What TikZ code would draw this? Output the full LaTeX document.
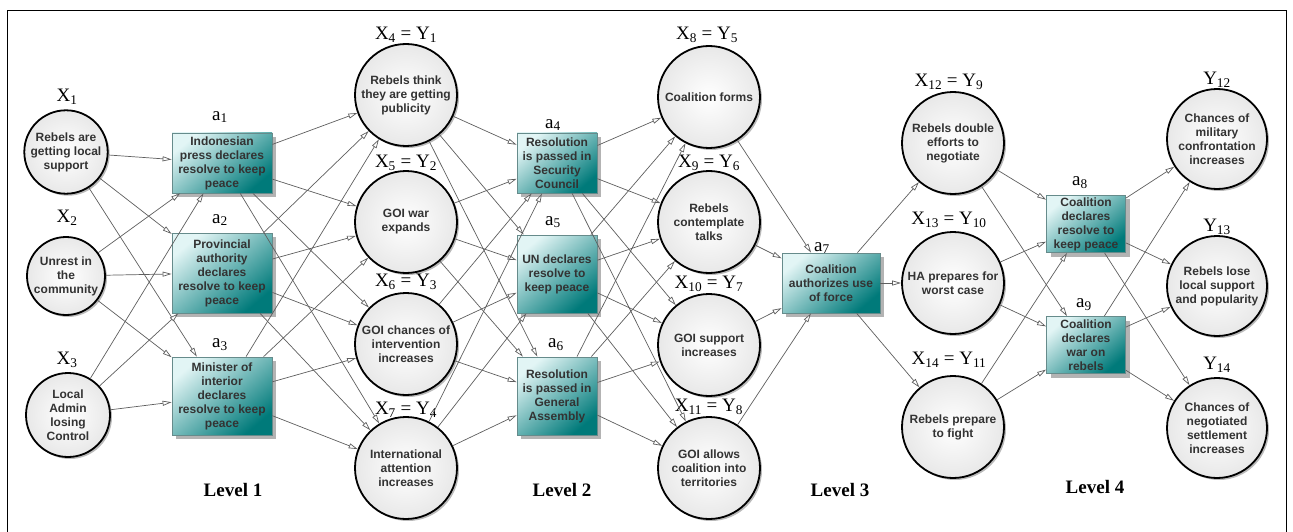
\documentclass[tikz,border=0pt]{standalone}
\usepackage{fontspec}
\setmainfont{Liberation Serif}
\setsansfont{Liberation Sans}
\usetikzlibrary{arrows.meta,shadows}
\definecolor{myTealLight}{HTML}{E2F5F5}
\definecolor{myTealMid}{HTML}{4DB3B3}
\definecolor{myTealDark}{HTML}{007A7A}
\definecolor{myGray}{HTML}{5E5E5E}
\newcommand{\sub}[2]{#1\textsubscript{#2}}

\begin{document}
\begin{tikzpicture}[x=1pt, y=-1pt, >={Triangle[length=9pt,width=5pt,fill=white]}, ->, line width=0.7pt, myGray]

  \tikzstyle{C}=[circle, draw=black, line width=1.8pt, minimum size=102pt, inner sep=1pt, align=center, text=black!80, font=\sffamily\bfseries\fontsize{12}{14}\selectfont, inner color=white, outer color=black!9, drop shadow={shadow xshift=2pt, shadow yshift=-2pt, fill=black!45, opacity=0.6}]
  \tikzstyle{A}=[rectangle, draw=myTealDark!50!black!60, line width=0.8pt, minimum width=80pt, minimum height=60pt, inner sep=2pt, align=center, text=black!80, font=\sffamily\bfseries\fontsize{12}{14}\selectfont, top color=myTealLight, middle color=myTealMid, bottom color=myTealDark, shading angle=40, drop shadow={shadow xshift=4pt, shadow yshift=-4pt, fill=black!50, opacity=0.6}]
  \tikzstyle{B}=[text=black, font=\fontsize{19}{21}\selectfont, inner sep=0pt]
  \tikzstyle{L}=[text=black, font=\bfseries\fontsize{19}{21}\selectfont, inner sep=0pt]

  \useasboundingbox (0,0) rectangle (1293,532);
  \draw [-, black, line width=1pt] (7,532) |- (1286,11) -- (1286,532);

  % level 1
  \node[C, minimum size=80pt] at (66,152) (X1) {Rebels are\\getting local\\support};
  \node[C, minimum size=78pt] at (66,276) (X2) {Unrest in\\the\\community};
  \node[C, minimum size=84pt] at (68,415) (X3) {Local\\Admin\\losing\\Control};
  \node[B] at (67,97) (lX1) {\sub{X}{1}};
  \node[B] at (67,218) (lX2) {\sub{X}{2}};
  \node[B] at (67,360) (lX3) {\sub{X}{3}};

  \node[A, minimum width=100pt] at (222,163) (a1) {Indonesian\\press declares\\resolve to keep\\peace};
  \node[A, minimum width=100pt, minimum height=80pt] at (222,273) (a2) {Provincial\\authority\\declares\\resolve to keep\\peace};
  \node[A, minimum width=100pt, minimum height=78pt] at (222,396) (a3) {Minister of\\interior\\declares\\resolve to keep\\peace};
  \node[B] at (220,117) (la1) {\sub{a}{1}};
  \node[B] at (220,220) (la2) {\sub{a}{2}};
  \node[B] at (220,345) (la3) {\sub{a}{3}};

  \draw [] (X1) to (a1);
  \draw [] (X1) to (a2);
  \draw [] (X1) to (a3);
  \draw [] (X2) to (a1);
  \draw [] (X2) to (a2);
  \draw [] (X2) to (a3);
  \draw [] (X3) to (a1);
  \draw [] (X3) to (a2);
  \draw [] (X3) to (a3);

  \node[L] at (233,490) (level1) {Level 1};

  % level 2
  \node[C] at (406,95) (X4) {Rebels think\\they are getting\\publicity};
  \node[C] at (406,222) (X5) {GOI war\\expands};
  \node[C] at (406,344) (X6) {GOI chances of\\intervention\\increases};
  \node[C] at (406,468) (X7) {International\\attention\\increases};
  \node[B] at (406,35) (lX4) {\sub{X}{4} = \sub{Y}{1}};
  \node[B] at (406,163) (lX5) {\sub{X}{5} = \sub{Y}{2}};
  \node[B] at (406,282) (lX6) {\sub{X}{6} = \sub{Y}{3}};
  \node[B] at (406,410) (lX7) {\sub{X}{7} = \sub{Y}{4}};

  \draw [] (a1) to (X4);
  \draw [] (a1) to (X5);
  \draw [] (a1) to (X6);
  \draw [] (a1) to (X7);
  \draw [] (a2) to (X4);
  \draw [] (a2) to (X5);
  \draw [] (a2) to (X6);
  \draw [] (a2) to (X7);
  \draw [] (a3) to (X4);
  \draw [] (a3) to (X5);
  \draw [] (a3) to (X6);
  \draw [] (a3) to (X7);

  \node[A] at (557,163) (a4) {Resolution\\is passed in\\Security\\Council};
  \node[A, minimum height=78pt] at (557,274) (a5) {UN declares\\resolve to\\keep peace};
  \node[A, minimum height=78pt] at (557,396) (a6) {Resolution\\is passed in\\General\\Assembly};
  \node[B] at (553,125) (la4) {\sub{a}{4}};
  \node[B] at (553,222) (la5) {\sub{a}{5}};
  \node[B] at (556,345) (la6) {\sub{a}{6}};

  \draw [] (X4) to (a4);
  \draw [] (X4) to (a5);
  \draw [] (X4) to (a6);
  \draw [] (X5) to (a4);
  \draw [] (X5) to (a5);
  \draw [] (X5) to (a6);
  \draw [] (X6) to (a4);
  \draw [] (X6) to (a5);
  \draw [] (X6) to (a6);
  \draw [] (X7) to (a4);
  \draw [] (X7) to (a5);
  \draw [] (X7) to (a6);

  \node[L] at (562,490) (level2) {Level 2};

  % level 3
  \node[C] at (709,97) (X8) {Coalition forms};
  \node[C] at (709,222) (X9) {Rebels\\contemplate\\talks};
  \node[C] at (709,345) (X10) {GOI support\\increases};
  \node[C] at (709,468) (X11) {GOI allows\\coalition into\\territories};
  \node[B] at (707,35) (lX8) {\sub{X}{8} = \sub{Y}{5}};
  \node[B] at (709,163) (lX9) {\sub{X}{9} = \sub{Y}{6}};
  \node[B] at (709,284) (lX10) {\sub{X}{10} = \sub{Y}{7}};
  \node[B] at (709,407) (lX11) {\sub{X}{11} = \sub{Y}{8}};

  \draw [] (a4) to (X8);
  \draw [] (a4) to (X9);
  \draw [] (a4) to (X10);
  \draw [] (a4) to (X11);
  \draw [] (a5) to (X8);
  \draw [] (a5) to (X9);
  \draw [] (a5) to (X10);
  \draw [] (a5) to (X11);
  \draw [] (a6) to (X8);
  \draw [] (a6) to (X9);
  \draw [] (a6) to (X10);
  \draw [] (a6) to (X11);

  \node[A, minimum width=98pt] at (831,283) (a7) {Coalition\\authorizes use\\of force};
  \node[B] at (822,248) (la7) {\sub{a}{7}};

  \draw [] (X8) to (a7);
  \draw [] (X9) to (a7);
  \draw [] (X10) to (a7);
  \draw [] (X11) to (a7);

  \node[L] at (840,490) (level3) {Level 3};

  % level 4
  \node[C] at (953,143) (X12) {Rebels double\\efforts to\\negotiate};
  \node[C] at (953,283) (X13) {HA prepares for\\worst case};
  \node[C] at (953,427) (X14) {Rebels prepare\\to fight};
  \node[B] at (949,82) (lX12) {\sub{X}{12} = \sub{Y}{9}};
  \node[B] at (949,220) (lX13) {\sub{X}{13} = \sub{Y}{10}};
  \node[B] at (949,360) (lX14) {\sub{X}{14} = \sub{Y}{11}};

  \draw [] (a7) to (X12);
  \draw [] (a7) to (X13);
  \draw [] (a7) to (X14);

  \node[A, minimum width=79pt, minimum height=57pt] at (1086,224) (a8) {Coalition\\declares\\resolve to\\keep peace};
  \node[A, minimum width=79pt, minimum height=57pt] at (1086,345) (a9) {Coalition\\declares\\war on\\rebels};
  \node[B] at (1080,183) (la8) {\sub{a}{8}};
  \node[B] at (1084,305) (la9) {\sub{a}{9}};

  \draw [] (X12) to (a8);
  \draw [] (X12) to (a9);
  \draw [] (X13) to (a8);
  \draw [] (X13) to (a9);
  \draw [] (X14) to (a8);
  \draw [] (X14) to (a9);

  \node[C, minimum size=100pt] at (1217,139) (Y12) {Chances of\\military\\confrontation\\increases};
  \node[C, minimum size=100pt] at (1217,286) (Y13) {Rebels lose\\local support\\and popularity};
  \node[C, minimum size=100pt] at (1217,428) (Y14) {Chances of\\negotiated\\settlement\\increases};
  \node[B] at (1217,80) (lY12) {\sub{Y}{12}};
  \node[B] at (1217,227) (lY13) {\sub{Y}{13}};
  \node[B] at (1217,365) (lY14) {\sub{Y}{14}};

  \draw [] (a8) to (Y12);
  \draw [] (a8) to (Y13);
  \draw [] (a8) to (Y14);
  \draw [] (a9) to (Y12);
  \draw [] (a9) to (Y13);
  \draw [] (a9) to (Y14);

  \node[L] at (1095,487) (level4) {Level 4};

\end{tikzpicture}
\end{document}
